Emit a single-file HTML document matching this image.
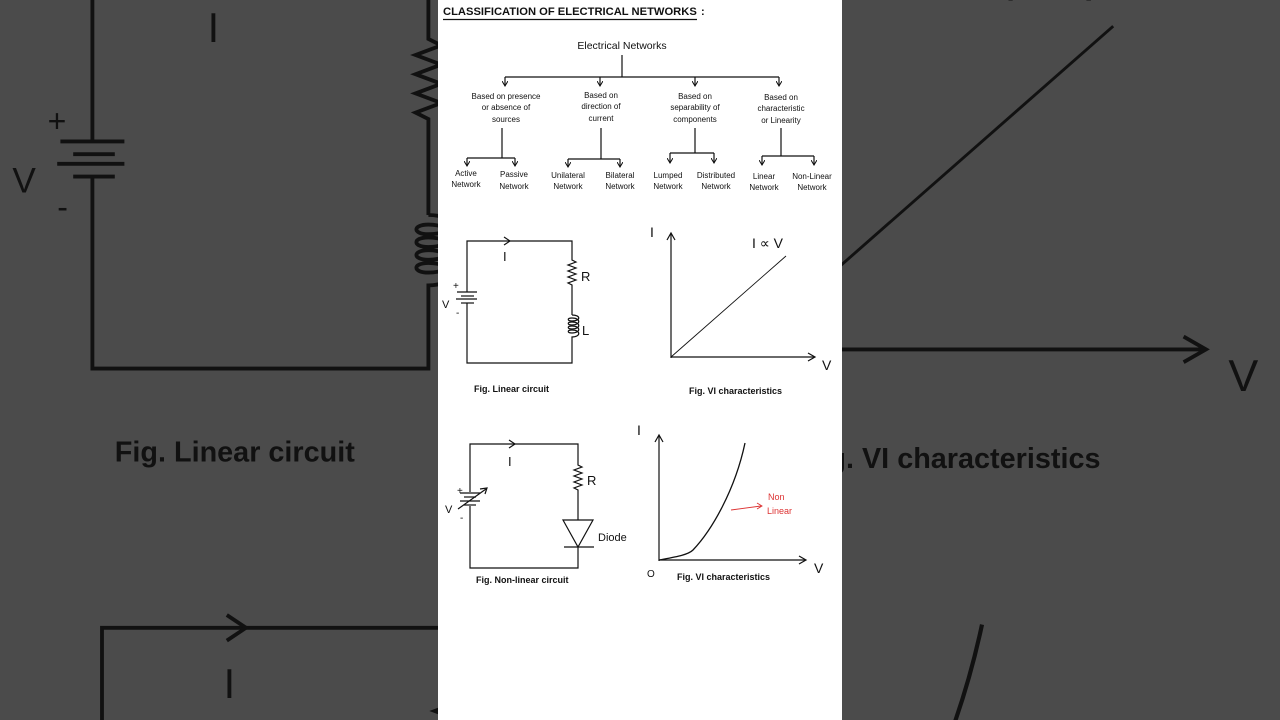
<!DOCTYPE html>
<html><head><meta charset="utf-8"><style>
html,body{margin:0;padding:0;width:1280px;height:720px;overflow:hidden;background:#4b4b4b}
svg{display:block;overflow:hidden}
text{font-family:"Liberation Sans",sans-serif;fill:#111}
</style></head><body>
<svg width="1280" height="720" viewBox="0 0 1280 720" xmlns="http://www.w3.org/2000/svg">
<defs>
<marker id="ah" markerWidth="6" markerHeight="6" refX="5" refY="3" orient="auto" markerUnits="userSpaceOnUse"><path d="M0,0 L5,3 L0,6" fill="none" stroke="#111" stroke-width="1"/></marker>
<g id="c" stroke="#111" fill="none" stroke-width="1.2">
<text x="443" y="15" font-size="11.2" font-weight="bold" stroke="none">CLASSIFICATION OF ELECTRICAL NETWORKS</text>
<text x="701" y="15" font-size="11" font-weight="bold" stroke="none">:</text>
<line x1="443" y1="19.5" x2="697" y2="19.5"/>
<text x="622" y="49" font-size="10.5" text-anchor="middle" stroke="none">Electrical Networks</text>
<line x1="622" y1="55" x2="622" y2="77"/>
<line x1="505" y1="77" x2="779" y2="77"/>
<line x1="505" y1="77" x2="505" y2="86" marker-end="url(#ah)"/>
<line x1="600" y1="77" x2="600" y2="86" marker-end="url(#ah)"/>
<line x1="695" y1="77" x2="695" y2="86" marker-end="url(#ah)"/>
<line x1="779" y1="77" x2="779" y2="86" marker-end="url(#ah)"/>
<g font-size="8" text-anchor="middle" stroke="none">
<text x="506" y="99">Based on presence</text><text x="506" y="110">or absence of</text><text x="506" y="122">sources</text>
<text x="601" y="98">Based on</text><text x="601" y="109">direction of</text><text x="601" y="121">current</text>
<text x="695" y="99">Based on</text><text x="695" y="110">separability of</text><text x="695" y="122">components</text>
<text x="781" y="100">Based on</text><text x="781" y="111">characteristic</text><text x="781" y="123">or Linearity</text>
<text x="466" y="176">Active</text><text x="466" y="187">Network</text>
<text x="514" y="177">Passive</text><text x="514" y="189">Network</text>
<text x="568" y="178">Unilateral</text><text x="568" y="189">Network</text>
<text x="620" y="178">Bilateral</text><text x="620" y="189">Network</text>
<text x="668" y="178">Lumped</text><text x="668" y="189">Network</text>
<text x="716" y="178">Distributed</text><text x="716" y="189">Network</text>
<text x="764" y="179">Linear</text><text x="764" y="190">Network</text>
<text x="812" y="179">Non-Linear</text><text x="812" y="190">Network</text>
</g>
<line x1="502" y1="128" x2="502" y2="158"/><line x1="467" y1="158" x2="515" y2="158"/>
<line x1="467" y1="158" x2="467" y2="166" marker-end="url(#ah)"/><line x1="515" y1="158" x2="515" y2="166" marker-end="url(#ah)"/>
<line x1="601" y1="128" x2="601" y2="159"/><line x1="568" y1="159" x2="620" y2="159"/>
<line x1="568" y1="159" x2="568" y2="167" marker-end="url(#ah)"/><line x1="620" y1="159" x2="620" y2="167" marker-end="url(#ah)"/>
<line x1="695" y1="128" x2="695" y2="153"/><line x1="670" y1="153" x2="714" y2="153"/>
<line x1="670" y1="153" x2="670" y2="163" marker-end="url(#ah)"/><line x1="714" y1="153" x2="714" y2="163" marker-end="url(#ah)"/>
<line x1="781" y1="128" x2="781" y2="156"/><line x1="762" y1="156" x2="814" y2="156"/>
<line x1="762" y1="156" x2="762" y2="165" marker-end="url(#ah)"/><line x1="814" y1="156" x2="814" y2="165" marker-end="url(#ah)"/>

<path d="M467,292 V241 H572 V260 l4,2 -8,3 8,3 -8,3 8,3 -8,3 8,3 -8,3 4,2 V315"/>
<path d="M572,315 c9,0 9,6 0,6 c-5,0 -5,-3 0,-3 c9,0 9,7 0,7 c-5,0 -5,-3 0,-3 c9,0 9,7 0,7 c-5,0 -5,-3 0,-3 c9,0 9,7 0,7 c-5,0 -5,-3 0,-3 c9,0 9,7 0,7 V363 H467 V303"/>
<path d="M504,237 L510,241 L504,245"/>
<line x1="457" y1="292" x2="477" y2="292"/><line x1="461" y1="296" x2="474" y2="296"/><line x1="456" y1="299" x2="477" y2="299"/><line x1="461" y1="303" x2="474" y2="303"/>
<g stroke="none" font-size="13"><text x="503" y="261">I</text><text x="581" y="281">R</text><text x="582" y="335">L</text><text x="442" y="308" font-size="11">V</text><text x="453" y="289" font-size="10">+</text><text x="456" y="316" font-size="10">-</text></g>
<text x="474" y="392" font-size="9" font-weight="bold" stroke="none">Fig. Linear circuit</text>

<line x1="671" y1="358" x2="671" y2="234"/><path d="M667,240 L671,233 L675,240"/>
<line x1="671" y1="357" x2="814" y2="357"/><path d="M808,353 L815,357 L808,361"/>
<line x1="671" y1="357" x2="786" y2="256" stroke-width="0.9"/>
<g stroke="none" font-size="14"><text x="650" y="237">I</text><text x="822" y="370">V</text><text x="752" y="248">I ∝ V</text></g>
<text x="689" y="394" font-size="9" font-weight="bold" stroke="none">Fig. VI characteristics</text>

<path d="M470,492 V444 H578 V465 l4,2 -8,3 8,3 -8,3 8,3 -8,3 8,3 -8,3 4,2 V520"/>
<path d="M563,520 H593 L578,547 Z"/><line x1="564" y1="547" x2="594" y2="547"/>
<path d="M578,547 V568 H470 V506"/>
<path d="M509,440 L515,444 L509,448"/>
<line x1="460" y1="493" x2="480" y2="493"/><line x1="464" y1="497" x2="476" y2="497"/><line x1="460" y1="501" x2="480" y2="501"/><line x1="464" y1="505" x2="476" y2="505"/>
<line x1="458" y1="509" x2="486" y2="489"/><path d="M480,489 L487,488 L485,494"/>
<g stroke="none" font-size="13"><text x="508" y="466">I</text><text x="587" y="485">R</text><text x="445" y="513" font-size="11">V</text><text x="457" y="494" font-size="10">+</text><text x="460" y="521" font-size="10">-</text><text x="598" y="541" font-size="11">Diode</text></g>
<text x="476" y="583" font-size="9" font-weight="bold" stroke="none">Fig. Non-linear circuit</text>

<line x1="659" y1="561" x2="659" y2="436"/><path d="M655,442 L659,435 L663,442"/>
<line x1="659" y1="560" x2="805" y2="560"/><path d="M799,556 L806,560 L799,564"/>
<path d="M659,560 C675,557 688,555 693,550 C712,530 735,490 745,443" stroke-width="1.3"/>
<g stroke="none" font-size="14"><text x="637" y="435">I</text><text x="814" y="573">V</text><text x="647" y="577" font-size="10">O</text></g>
<line x1="731" y1="510" x2="761" y2="506" stroke="#d33" stroke-width="0.9"/><path d="M757,503 L762,506 L757,509" stroke="#d33" stroke-width="0.9"/>
<g stroke="none" font-size="9"><text x="768" y="500" style="fill:#d33">Non</text><text x="767" y="514" style="fill:#d33">Linear</text></g>
<text x="677" y="580" font-size="9" font-weight="bold" stroke="none">Fig. VI characteristics</text>
</g>
<clipPath id="cl"><rect width="1280" height="720"/></clipPath>
</defs>
<rect width="1280" height="720" fill="#4b4b4b"/>
<g clip-path="url(#cl)"><g transform="translate(-1402,-793) scale(3.2)"><use href="#c"/></g></g>
<rect x="438" y="0" width="404" height="720" fill="#fff"/>
<use href="#c"/>
</svg>
</body></html>
